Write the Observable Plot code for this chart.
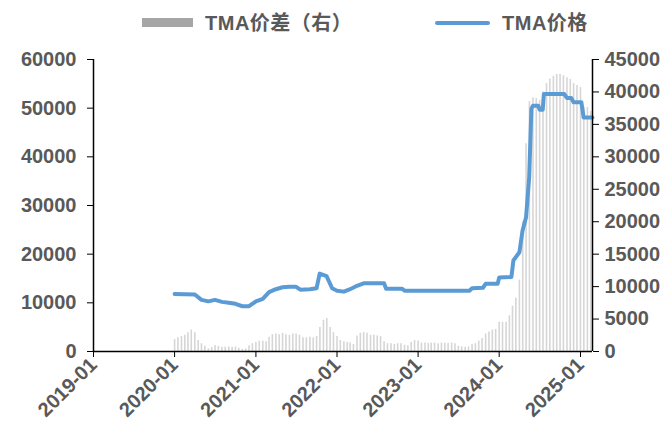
<!DOCTYPE html>
<html>
<head>
<meta charset="utf-8">
<script src="https://cdn.jsdelivr.net/npm/d3@7"></script>
<script src="https://cdn.jsdelivr.net/npm/@observablehq/plot@0.6"></script>
<style>
  body { margin: 0; background: white; }
  #wrap { width: 672px; height: 436px; position: relative; background: white; }
  #legend { position: relative; width: 672px; height: 45px; font-family: "Liberation Sans", "Noto Sans CJK SC", sans-serif; font-weight: bold; font-size: 20px; color: #595959; }
  .sw-bar { position: absolute; left: 142px; top: 18px; width: 51px; height: 9px; background: #a6a6a6; }
  .sw-line { position: absolute; left: 435px; top: 21px; width: 55px; height: 4px; background: #5b9bd5; border-radius: 2px; }
  .lab { position: absolute; top: 10px; line-height: 26px; white-space: nowrap; letter-spacing: 0.5px; }
</style>
</head>
<body>
<div id="wrap">
  <div id="legend">
    <div class="sw-bar"></div><div class="lab" style="left:205px">TMA价差（右）</div>
    <div class="sw-line"></div><div class="lab" style="left:502px">TMA价格</div>
  </div>
  <div id="chart"></div>
</div>
<script>
// TMA价格 (left axis)
const lineDates = [
  "2020-01-01","2020-04-01","2020-05-01","2020-06-01","2020-07-01","2020-08-01","2020-09-01","2020-10-01",
  "2020-11-01","2020-12-01","2021-01-01","2021-02-01","2021-03-01","2021-04-01","2021-05-01","2021-06-01",
  "2021-07-01","2021-07-20","2021-09-01","2021-10-01","2021-10-15","2021-11-15","2021-12-10","2022-01-01",
  "2022-02-01","2022-03-01","2022-04-01","2022-05-01","2022-08-01","2022-08-10","2022-10-20","2022-11-01",
  "2023-08-20","2023-09-01","2023-10-20","2023-11-01","2023-12-25","2024-01-01","2024-02-25","2024-03-05",
  "2024-04-01","2024-04-15","2024-05-01","2024-05-15","2024-05-25","2024-06-01","2024-06-25","2024-07-01",
  "2024-07-15","2024-07-20","2024-10-20","2024-11-01","2024-11-20","2024-12-01","2025-01-05","2025-01-15",
  "2025-02-24"
];
const lineValues = [
  11800,11700,10600,10300,10600,10200,10000,9800,
  9300,9300,10300,10800,12200,12800,13200,13300,
  13300,12700,12800,13000,16000,15500,13000,12500,
  12300,12800,13500,14000,14000,12900,12900,12500,
  12500,13000,13100,13900,13900,15200,15300,18700,
  20400,24800,27600,35800,49900,50500,50500,49700,
  49700,52900,52900,52100,52100,51200,51200,48100,
  48100
];

// TMA价差（右）semi-monthly, starting 2020-01-01
const barStart = "2020-01";
const barValues = [
  1850,2100,2300,2500,2900,3300,2900,1700,1200,800,410,600,920,800,670,670,
  700,670,700,500,300,400,900,1200,1400,1600,1600,1500,2200,2600,2700,2600,
  2800,2600,2500,2700,2700,2500,2100,2100,2200,2100,2300,3700,4800,5100,3700,2900,
  2300,1700,1500,1400,1300,1100,2400,2800,2900,2800,2500,2500,2400,2300,1500,1200,
  1200,1100,1200,1200,950,900,1400,1700,1600,1300,1300,1250,1300,1300,1200,1300,
  1300,1250,1300,1200,800,700,650,700,1100,1200,1600,2000,2700,3000,3300,3400,
  4500,4500,4500,5500,7000,8200,11000,20000,32000,38500,39100,39000,38700,40000,41300,42000,
  42400,42700,42700,42500,42200,41900,41300,41000,40700,37600,37600,37000
];

const leftTicks = [0,10000,20000,30000,40000,50000,60000];
const rightTicks = [0,5000,10000,15000,20000,25000,30000,35000,40000,45000];
const xTickLabels = ["2019-01","2020-01","2021-01","2022-01","2023-01","2024-01","2025-01"];
const xDomain = ["2019-01-01","2025-02-24"];

const RATIO = 60000 / 45000;
const [sy, sm] = barStart.split("-").map(Number);
const barData = barValues.map((v, i) => ({
  date: new Date(Date.UTC(sy, sm - 1 + Math.floor(i / 2), i % 2 ? 16 : 1)),
  value: v
}));
const lineData = lineDates.map((d, i) => ({date: new Date(d + "T00:00:00Z"), value: lineValues[i]}));
const xTicks = xTickLabels.map(s => new Date(s + "-01T00:00:00Z"));
const dom = xDomain.map(s => new Date(s + "T00:00:00Z"));

const chart = Plot.plot({
  width: 672, height: 391,
  marginLeft: 93, marginRight: 80, marginTop: 14, marginBottom: 85,
  x: {type: "utc", domain: dom},
  y: {domain: [0, 60000]},
  style: {fontFamily: "'Liberation Sans', Arial, sans-serif", fontSize: "20px", fontWeight: "bold", color: "#595959", background: "white", overflow: "visible"},
  marks: [
    Plot.ruleX(barData, {x: "date", y1: 0, y2: d => d.value * RATIO, stroke: "#d6d6d6", strokeWidth: 1.6}),
    Plot.line(lineData, {x: "date", y: "value", stroke: "#5b9bd5", strokeWidth: 4, strokeLinejoin: "round"}),
    Plot.ruleX([dom[0]], {stroke: "black", strokeWidth: 1.5}),
    Plot.ruleX([dom[1]], {stroke: "black", strokeWidth: 1.5}),
    Plot.ruleY([0], {stroke: "black", strokeWidth: 1.5}),
    Plot.axisY(leftTicks, {anchor: "left", tickSize: 6, tickPadding: 11, stroke: "black", fill: "#595959", tickFormat: d => String(d), label: null}),
    Plot.axisY(rightTicks.map(v => v * RATIO), {anchor: "right", tickSize: 6, tickPadding: 6, stroke: "black", fill: "#595959", tickFormat: v => String(Math.round(v / RATIO)), label: null}),
    Plot.axisX(xTicks, {anchor: "bottom", tickSize: 6, tickPadding: 4, tickRotate: -45, stroke: "black", fill: "#595959", tickFormat: d3.utcFormat("%Y-%m"), label: null})
  ]
});
document.getElementById("chart").appendChild(chart);
</script>
</body>
</html>
